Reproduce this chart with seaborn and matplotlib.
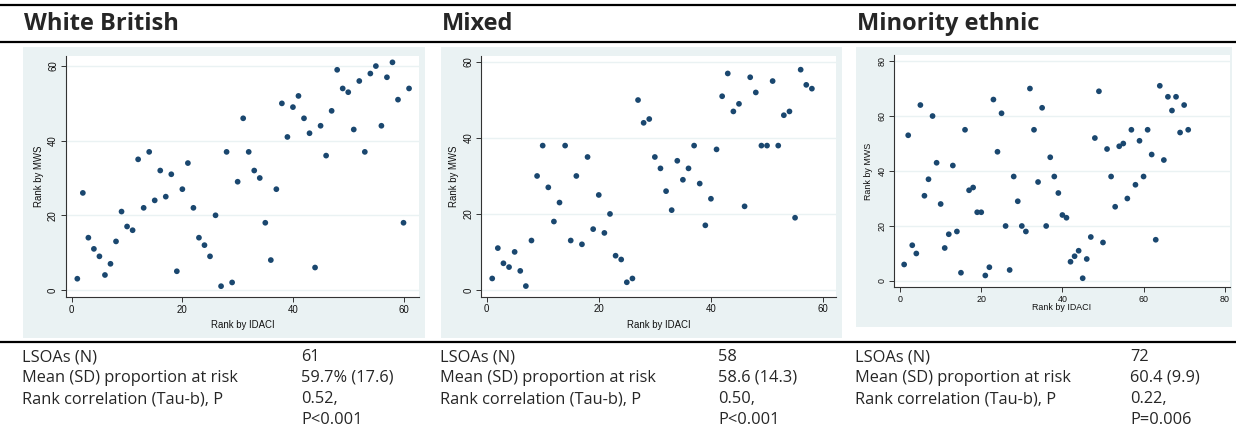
import numpy as np
import pandas as pd
import matplotlib
matplotlib.use("Agg")
import matplotlib.pyplot as plt
from matplotlib.patches import Rectangle
import seaborn as sns

# ---- data ----
white_idaci = list(range(1, 62))
white_mws = [3, 26, 14, 11, 9, 4, 7, 13, 21, 17, 16, 35, 22, 37, 24, 32, 25, 31, 5, 27,
             34, 22, 14, 12, 9, 20, 1, 37, 2, 29, 46, 37, 32, 30, 18, 8, 27, 50, 41, 49,
             52, 46, 42, 6, 44, 36, 48, 59, 54, 53, 43, 56, 37, 58, 60, 44, 57, 61, 51, 18, 54]

mixed_idaci = list(range(1, 59))
mixed_mws = [3, 11, 7, 6, 10, 5, 1, 13, 30, 38, 27, 18, 23, 38, 13, 30, 12, 35, 16, 25,
             15, 20, 9, 8, 2, 3, 50, 44, 45, 35, 32, 26, 21, 34, 29, 32, 38, 28, 17, 24,
             37, 51, 57, 47, 49, 22, 56, 52, 38, 38, 55, 38, 46, 47, 19, 58, 54, 53]

minority_idaci = list(range(1, 72))
minority_mws = [6, 53, 13, 10, 64, 31, 37, 60, 43, 28, 12, 17, 42, 18, 3, 55, 33, 34, 25, 25,
                2, 5, 66, 47, 61, 20, 4, 38, 29, 20, 18, 70, 55, 36, 63, 20, 45, 38, 32, 24,
                23, 7, 9, 11, 1, 8, 16, 52, 69, 14, 48, 38, 27, 49, 50, 30, 55, 35, 51, 38,
                55, 46, 15, 71, 44, 67, 62, 67, 54, 64, 55]

groups = ["White British", "Mixed", "Minority ethnic"]
row_labels = ["LSOAs (N)", "Mean (SD) proportion at risk", "Rank correlation (Tau-b), P", ""]
n_lsoa = ["61", "58", "72"]
mean_sd = ["59.7% (17.6)", "58.6 (14.3)", "60.4 (9.9)"]
tau_b = ["0.52,", "0.50,", "0.22,"]
p_vals = ["P<0.001", "P<0.001", "P=0.006"]
x_ticks = [[0, 20, 40, 60], [0, 20, 40, 60], [0, 20, 40, 60, 80]]
y_ticks = [[0, 20, 40, 60], [0, 20, 40, 60], [0, 20, 40, 60, 80]]

W, H = 1236, 441
BG = "#EAF2F3"
NAVY = "#1A476F"
TEXT_FONT = ["Open Sans", "DejaVu Sans"]

sns.set_style("ticks")
plt.rcParams["font.family"] = ["Liberation Sans", "DejaVu Sans"]

fig = plt.figure(figsize=(W / 100, H / 100), dpi=100)


def frect(x0, y0, x1, y1):
    # pixel box (top-left origin) -> figure fraction rect
    return [x0 / W, 1 - y1 / H, (x1 - x0) / W, (y1 - y0) / H]


# horizontal rules
for yy in [4.5, 41.5, 341.5]:
    fig.add_artist(plt.Line2D([0, 1], [1 - yy / H] * 2, color="black", lw=1.6,
                              transform=fig.transFigure))

# panel backgrounds (Stata style graph region)
for (x0, y0, x1, y1) in [(23, 47, 425, 338), (441, 47, 842, 338), (856, 47, 1232, 327)]:
    fig.add_artist(Rectangle((x0 / W, 1 - y1 / H), (x1 - x0) / W, (y1 - y0) / H,
                             transform=fig.transFigure, facecolor=BG, edgecolor="none",
                             zorder=0))

frames = [
    pd.DataFrame({"idaci": white_idaci, "mws": white_mws}),
    pd.DataFrame({"idaci": mixed_idaci, "mws": mixed_mws}),
    pd.DataFrame({"idaci": minority_idaci, "mws": minority_mws}),
]
boxes = [(65.7, 56, 419, 297), (481, 56, 836, 296.7), (894, 55, 1230, 287.3)]
xlims = [(-1.1, 62.8), (-1.0, 62.3), (-1.5, 81.3)]
ylims = [(-1.9, 62.7), (-1.8, 61.6), (-2.3, 82.2)]
fsizes = [6.9, 6.9, 6.4]
xpads = [4, 4, -1]

for i, df in enumerate(frames):
    ax = fig.add_axes(frect(*boxes[i]))
    ax.set_facecolor("white")
    for yt in y_ticks[i]:
        ax.axhline(yt, color=BG, lw=1.0, zorder=0)
    sns.scatterplot(data=df, x="idaci", y="mws", ax=ax, color=NAVY, s=17,
                    edgecolor="none", linewidth=0, zorder=3)
    ax.set_xlim(*xlims[i])
    ax.set_ylim(*ylims[i])
    ax.set_xticks(x_ticks[i])
    ax.set_yticks(y_ticks[i])
    ax.set_yticklabels([str(t) for t in y_ticks[i]], rotation=90, va="center")
    ax.tick_params(labelsize=fsizes[i], length=3.5, width=0.7, color="#333333",
                   pad=2, labelcolor="#111111")
    ax.set_xlabel("Rank by IDACI", fontsize=fsizes[i], labelpad=xpads[i], color="#111111")
    ax.set_ylabel("Rank by MWS", fontsize=fsizes[i], labelpad=3, color="#111111")
    for side in ["top", "right"]:
        ax.spines[side].set_visible(False)
    for side in ["left", "bottom"]:
        ax.spines[side].set_linewidth(0.8)
        ax.spines[side].set_color("#333333")

# group headers
head_x = [22, 440, 855]
for hx, name in zip(head_x, groups):
    fig.text((hx + 2) / W, 1 - 24 / H, name, fontsize=17, fontweight="bold",
             family=TEXT_FONT, va="center", ha="left")

# summary table under each panel
val_x = [301, 718, 1130]
row_y = [357, 378, 399, 420]
for i in range(3):
    vals = [n_lsoa[i], mean_sd[i], tau_b[i], p_vals[i]]
    for ry, lab, v in zip(row_y, row_labels, vals):
        if lab:
            fig.text(head_x[i] / W, 1 - ry / H, lab, fontsize=11.8,
                     family=TEXT_FONT, va="center", ha="left")
        fig.text(val_x[i] / W, 1 - ry / H, v, fontsize=11.8,
                 family=TEXT_FONT, va="center", ha="left")

fig.savefig("out.png", dpi=100)
